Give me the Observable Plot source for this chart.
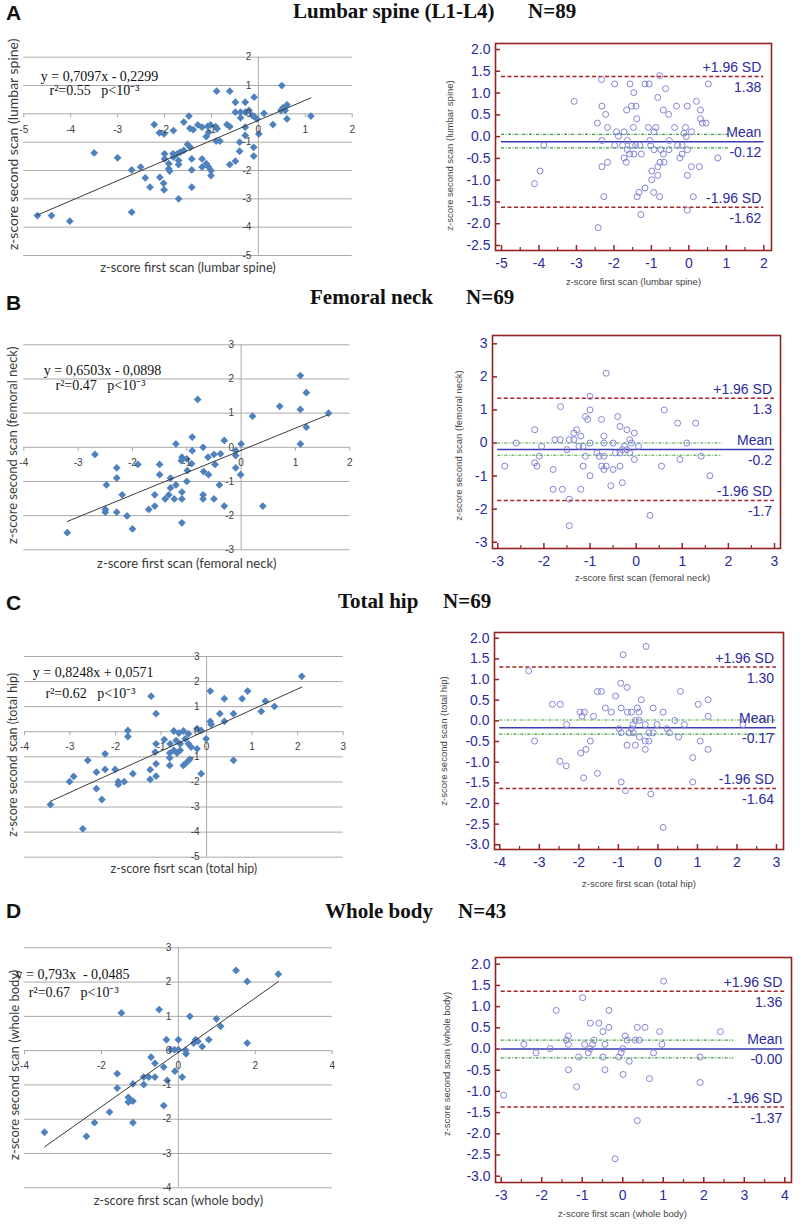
<!DOCTYPE html>
<html>
<head>
<meta charset="utf-8">
<script src="https://cdn.jsdelivr.net/npm/d3@7"></script>
<script src="https://cdn.jsdelivr.net/npm/@observablehq/plot@0.6"></script>
<style>
  body { margin: 0; background: #fff; }
  #root { position: relative; width: 800px; height: 1224px; overflow: hidden; background: #fff; }
  .letter { position: absolute; font-family: "Liberation Sans", Arial, sans-serif; font-weight: bold; font-size: 21px; line-height: 21px; color: #111; }
  .ttl { position: absolute; font-family: "Liberation Serif", "Times New Roman", serif; font-weight: bold; font-size: 21px; line-height: 21px; color: #111; white-space: pre; }
  svg text { white-space: pre; }
</style>
</head>
<body>
<div id="root"></div>
<script>
// ---------------- DATA ----------------
const panelLetters = ["A", "B", "C", "D"];
const siteTitles = ["Lumbar spine (L1-L4)", "Femoral neck", "Total hip", "Whole body"];
const sampleSizes = ["N=89", "N=69", "N=69", "N=43"];

const scatterXTitles = ["z-score first scan (lumbar spine)", "z-score first scan (femoral neck)", "z-score fisrt scan (total hip)", "z-score first scan (whole body)"];
const scatterYTitles = ["z-score second scan (lumbar spine)", "z-score second scan (femoral neck)", "z-score second scan (total hip)", "z-score second scan (whole body)"];
const baXTitles = ["z-score first scan (lumbar spine)", "z-score first scan (femoral neck)", "z-score first scan (total hip)", "z-score first scan (whole body)"];
const baYTitles = ["z-score second scan (lumbar spine)", "z-score second scan (femoral neck)", "z-score second scan (total hip)", "z-score second scan (whole body)"];

const equations = ["y = 0,7097x - 0,2299", "y = 0,6503x - 0,0898", "y = 0,8248x + 0,0571", "y = 0,793x  - 0,0485"];
const fitStats = ["r\u00b2=0.55   p<10\u207b\u00b3", "r\u00b2=0.47   p<10\u207b\u00b3", "r\u00b2=0.62   p<10\u207b\u00b3", "r\u00b2=0.67   p<10\u207b\u00b3"];
const fitSlopes = [0.7097, 0.6503, 0.8248, 0.793];
const fitIntercepts = [-0.2299, -0.0898, 0.0571, -0.0485];

const scatterXTicks = [[-5,-4,-3,-2,-1,0,1,2], [-4,-3,-2,-1,0,1,2], [-4,-3,-2,-1,0,1,2,3], [-4,-2,0,2,4]];
const scatterYTicks = [[-5,-4,-3,-2,-1,0,1,2], [-3,-2,-1,0,1,2,3], [-5,-4,-3,-2,-1,0,1,2,3], [-4,-3,-2,-1,0,1,2,3]];
const baXTicks = [[-5,-4,-3,-2,-1,0,1,2], [-3,-2,-1,0,1,2,3], [-4,-3,-2,-1,0,1,2,3], [-3,-2,-1,0,1,2,3,4]];
const baYTicks = [[-2.5,-2,-1.5,-1,-0.5,0,0.5,1,1.5,2], [-3,-2,-1,0,1,2,3], [-3,-2.5,-2,-1.5,-1,-0.5,0,0.5,1,1.5,2], [-3,-2.5,-2,-1.5,-1,-0.5,0,0.5,1,1.5,2]];
const baYDecimals = [1, 0, 1, 1];

const baUpper = [1.38, 1.35, 1.30, 1.36];
const baUpperLabels = ["1.38", "1.3", "1.30", "1.36"];
const baMean = [-0.12, -0.2, -0.17, 0.0];
const baMeanLabels = ["-0.12", "-0.2", "-0.17", "-0.00"];
const baLower = [-1.62, -1.74, -1.64, -1.37];
const baLowerLabels = ["-1.62", "-1.7", "-1.64", "-1.37"];
const baCIUpper = [0.05, 0.0, 0.02, 0.21];
const baCILower = [-0.26, -0.37, -0.32, -0.21];
const baCIEnd = [1.07, 1.87, 3.0, 2.74];

const lumbarScatter = [[0.50,1.00],[-0.89,0.80],[-0.61,0.80],[-0.09,0.59],[-0.49,0.41],[-0.28,0.41],[0.61,0.32],[0.52,0.21],[0.48,0.12],[0.57,0.12],[-0.49,0.06],[-0.38,0.06],[-0.20,0.12],[-0.13,-0.06],[0.12,0.02],[-0.28,0.06],[-0.38,-0.14],[-0.09,-0.09],[-0.03,-0.18],[1.12,-0.08],[0.61,-0.18],[0.31,-0.38],[0.01,-0.71],[-0.28,-0.47],[-0.28,-0.76],[-0.40,-1.00],[-0.40,-1.32],[-0.10,-1.18],[-0.10,-1.49],[-0.49,-1.67],[-0.61,-1.79],
[-1.48,-0.08],[-1.59,-0.29],[-1.46,-0.51],[-1.39,-0.56],[-2.22,-0.38],[-2.11,-0.67],[-2.01,-0.71],[-1.81,-0.59],[-1.29,-0.39],[-1.20,-0.47],[-1.08,-0.44],[-1.02,-0.39],[-0.91,-0.45],[-0.88,-0.53],[-1.11,-0.80],[-1.06,-0.65],[-0.90,-0.96],[-0.82,-0.96],[-0.67,-0.38],[-0.61,-0.45],[-1.51,-1.08],[-1.45,-1.18],[-1.59,-1.29],[-1.66,-1.35],[-1.73,-1.41],[-1.82,-1.41],[-2.00,-1.41],[-2.00,-1.59],[-1.81,-1.53],[-1.70,-1.65],[-1.70,-1.79],[-1.91,-1.76],[-1.91,-1.94],[-1.89,-2.02],[-1.42,-1.59],[-1.42,-1.98],[-1.20,-1.59],[-1.20,-1.88],[-1.11,-1.76],[-1.06,-1.88],[-1.01,-2.00],[-1.01,-2.18],[-2.02,-2.45],[-2.01,-2.68],[-2.10,-2.24],[-1.42,-2.59],[-1.70,-3.00],[-2.31,-2.59],[-2.41,-2.26],[-2.51,-1.88],[-2.70,-1.98],[-3.00,-1.55],[-3.50,-1.38],[-2.70,-3.47],[-4.71,-3.59],[-4.41,-3.59],[-4.02,-3.79]];

const femoralScatter = [[1.09,2.10],[1.20,1.60],[0.71,1.20],[1.09,1.11],[1.61,1.00],[0.21,0.91],[1.20,0.59],[1.09,0.10],[-0.80,1.40],[-0.90,0.30],[-1.20,0.10],[-0.70,0.00],[-0.31,0.20],[0.00,0.10],[-0.10,-0.10],[-0.10,-0.24],[-0.38,-0.19],[-0.50,-0.21],[-0.61,-0.29],[-0.90,-0.10],[-1.09,-0.29],[-1.10,-0.39],[-1.00,-0.34],[-0.91,-0.48],[-0.48,-0.50],[-0.10,-0.60],[-0.01,-0.80],[-0.99,-0.68],[-1.00,-1.00],[-0.69,-0.71],[-0.60,-0.80],[-0.40,-1.10],[-0.70,-1.39],[-0.70,-1.51],[-0.50,-1.51],[-0.31,-1.72],[0.40,-1.72],[-1.20,-1.10],[-1.30,-0.90],[-1.30,-1.19],[-1.09,-1.31],[-1.09,-1.51],[-1.23,-1.51],[-1.33,-1.39],[-1.40,-1.51],[-1.50,-0.50],[-1.50,-0.80],[-1.59,-1.39],[-1.59,-1.72],[-1.70,-1.82],[-1.09,-2.21],[-1.90,-0.50],[-2.00,-2.39],[-2.10,-2.01],[-2.19,-1.39],[-2.29,-0.60],[-2.29,-0.90],[-2.29,-1.90],[-2.48,-1.10],[-2.50,-1.82],[-2.50,-1.90],[-2.69,-0.21],[-3.20,-2.50]];

const hipScatter = [[2.09,2.21],[0.08,1.62],[0.90,1.62],[0.39,1.32],[0.78,1.32],[1.29,1.22],[1.49,1.01],[-1.22,1.42],[-1.11,0.72],[0.29,0.72],[0.59,0.72],[1.20,0.81],[0.39,0.41],[0.08,0.41],[0.10,0.29],[-1.73,0.05],[-1.73,-0.19],[-0.72,0.03],[-0.61,-0.05],[-0.51,0.03],[-0.40,-0.08],[-0.21,0.12],[-0.12,0.05],[-0.01,-0.28],[-0.93,-0.31],[-0.80,-0.48],[-0.67,-0.35],[-0.58,-0.48],[-0.47,-0.28],[-0.40,-0.48],[-0.34,-0.61],[-0.21,-0.68],[-1.11,-0.48],[-1.13,-0.81],[-1.11,-1.28],[-0.81,-0.85],[-0.72,-0.74],[-0.65,-0.85],[-0.58,-0.74],[-0.81,-1.04],[-0.81,-1.34],[-0.51,-1.34],[-0.43,-1.21],[-0.37,-1.10],[-1.24,-1.51],[-1.24,-1.90],[-1.11,-1.77],[-0.12,-1.67],[0.59,-1.14],[-2.23,-0.88],[-2.61,-1.14],[-2.01,-1.50],[-2.23,-1.50],[-2.42,-1.61],[-1.62,-1.67],[-2.92,-1.78],[-3.01,-1.99],[-1.94,-1.99],[-1.94,-2.10],[-1.81,-1.99],[-2.42,-2.27],[-2.30,-2.70],[-3.43,-2.90],[-2.72,-3.87]];

const bodyScatter = [[1.50,2.34],[1.79,2.02],[2.60,2.23],[-1.48,1.10],[-0.50,1.20],[0.30,1.00],[0.99,0.93],[1.10,0.71],[-0.31,0.32],[0.00,0.32],[0.45,0.32],[0.51,0.27],[0.79,0.32],[0.40,0.22],[0.62,0.12],[1.79,0.22],[-0.20,0.03],[-0.10,0.03],[0.00,0.03],[0.19,0.01],[0.20,-0.09],[-0.71,-0.19],[-0.61,-0.37],[-0.38,-0.48],[-0.09,-0.60],[0.10,-0.77],[-0.29,-0.87],[-1.59,-0.67],[-0.90,-0.77],[-0.77,-0.77],[-0.61,-0.77],[-0.90,-0.99],[-1.18,-0.97],[-1.59,-1.09],[-1.30,-1.36],[-1.24,-1.45],[-1.30,-1.50],[-1.18,-1.47],[-0.38,-1.60],[-1.79,-1.79],[-1.18,-2.10],[-2.18,-2.10],[-2.39,-2.50],[-3.48,-2.38]];

const lumbarBA = [[-2.33,1.31],[-1.98,1.21],[-1.57,1.21],[-1.17,1.21],[-1.06,1.21],[-0.78,1.40],[0.52,1.21],[-3.06,0.81],[-1.47,1.01],[-0.62,1.10],[-0.83,0.90],[-2.32,0.70],[-1.66,0.61],[-1.53,0.70],[-1.41,0.70],[-0.68,0.61],[-0.33,0.70],[-0.04,0.70],[0.20,0.81],[0.31,0.61],[-2.22,0.51],[-1.39,0.41],[-0.54,0.51],[0.31,0.41],[0.36,0.31],[0.46,0.31],[-2.44,0.31],[-2.17,0.21],[-1.48,0.21],[-1.08,0.21],[-0.88,0.21],[-0.38,0.21],[-0.09,0.21],[-1.93,0.11],[-1.73,0.11],[-0.93,0.11],[-0.13,0.08],[0.07,0.11],[-1.88,0.01],[-0.07,0.00],[-2.32,-0.09],[-1.64,-0.09],[-1.04,-0.09],[-0.52,-0.09],[-3.87,-0.20],[-1.98,-0.20],[-1.77,-0.20],[-1.51,-0.20],[-1.42,-0.20],[-1.31,-0.20],[-1.02,-0.20],[-0.30,-0.20],[-0.18,-0.20],[-1.64,-0.30],[-0.93,-0.30],[-0.75,-0.30],[-0.53,-0.30],[-0.04,-0.30],[-1.58,-0.40],[-1.47,-0.40],[-1.27,-0.40],[-0.68,-0.40],[-0.18,-0.40],[-1.73,-0.49],[-0.24,-0.49],[0.77,-0.49],[-1.67,-0.59],[-2.17,-0.59],[-0.77,-0.59],[-0.66,-0.59],[-2.32,-0.69],[-0.83,-0.69],[0.07,-0.69],[0.28,-0.69],[-3.97,-0.79],[-0.99,-0.79],[-0.83,-0.89],[-0.04,-0.89],[-0.99,-0.99],[-4.12,-1.08],[-1.17,-1.18],[-1.33,-1.28],[-0.94,-1.28],[-2.27,-1.38],[-1.38,-1.38],[-0.78,-1.38],[0.12,-1.38],[-1.28,-1.79],[-0.04,-1.69],[-2.42,-2.09]];

const femoralBA = [[-0.65,2.11],[-1.00,1.41],[-1.64,1.10],[-1.00,1.00],[0.61,1.00],[-1.10,0.80],[-1.05,0.71],[-0.75,0.71],[-0.40,0.80],[-0.35,0.50],[-2.20,0.40],[-1.29,0.40],[-1.35,0.30],[-0.20,0.40],[-0.04,0.30],[0.90,0.60],[1.29,0.60],[-0.70,0.21],[-1.20,0.21],[-1.76,0.10],[-1.65,0.10],[-1.45,0.10],[-1.35,0.10],[-0.14,0.10],[-2.60,0.00],[-1.00,0.00],[-0.70,0.00],[-0.50,0.00],[-0.10,0.00],[1.10,0.00],[-2.05,-0.10],[-1.24,-0.10],[-1.15,-0.10],[-0.25,-0.10],[0.05,-0.10],[-1.50,-0.20],[-0.30,-0.20],[-0.20,-0.20],[-0.85,-0.30],[-0.45,-0.30],[-0.35,-0.30],[-0.14,-0.30],[-2.10,-0.40],[-1.10,-0.40],[-0.80,-0.40],[-0.70,-0.40],[1.41,-0.40],[-0.04,-0.50],[0.95,-0.50],[-2.20,-0.60],[-2.85,-0.70],[-2.15,-0.70],[-1.15,-0.70],[-0.75,-0.70],[-0.65,-0.70],[-0.35,-0.70],[0.55,-0.70],[-1.80,-0.80],[-0.70,-0.80],[-0.50,-0.80],[-1.00,-0.99],[1.60,-0.99],[-0.55,-1.29],[-0.30,-1.20],[-1.80,-1.40],[-1.60,-1.40],[-1.20,-1.40],[-1.45,-1.70],[0.30,-2.19],[-1.45,-2.50]];

const hipBA = [[-0.30,1.80],[-0.88,1.60],[-3.27,1.21],[-0.94,0.91],[-0.78,0.81],[-1.53,0.71],[-1.43,0.71],[-1.07,0.60],[0.57,0.71],[-0.42,0.51],[1.27,0.51],[-2.67,0.40],[-2.47,0.40],[1.02,0.40],[-1.33,0.31],[-0.93,0.31],[-0.52,0.31],[-0.12,0.31],[-1.97,0.21],[-1.86,0.21],[-1.18,0.21],[-0.77,0.21],[-0.67,0.21],[-0.48,0.21],[0.13,0.21],[-1.92,0.11],[-1.63,0.11],[1.27,0.11],[-0.57,0.01],[-0.47,0.01],[0.43,0.01],[-2.31,-0.09],[-0.63,-0.09],[-0.32,-0.09],[-0.02,-0.09],[0.67,-0.09],[2.15,-0.09],[-0.98,-0.19],[-0.67,-0.19],[0.23,-0.19],[-0.93,-0.29],[-0.73,-0.29],[-0.62,-0.29],[-0.23,-0.29],[-0.12,-0.29],[0.29,-0.29],[-0.47,-0.39],[0.52,-0.39],[-3.12,-0.49],[-1.71,-0.49],[-0.32,-0.49],[-0.23,-0.49],[1.07,-0.49],[-0.78,-0.59],[-0.57,-0.59],[-1.82,-0.69],[-0.32,-0.69],[1.27,-0.69],[-1.95,-0.78],[0.88,-0.89],[-2.48,-0.98],[-2.32,-1.09],[-1.53,-1.27],[-1.88,-1.38],[-0.93,-1.48],[0.88,-1.48],[-0.82,-1.69],[-0.18,-1.77],[0.13,-2.58]];

const bodyBA = [[1.01,1.60],[-0.99,1.21],[-1.64,0.91],[-0.34,0.91],[-0.80,0.61],[-0.59,0.61],[-0.34,0.51],[0.36,0.51],[0.55,0.51],[-0.49,0.41],[0.91,0.41],[2.41,0.41],[-1.34,0.31],[-1.39,0.21],[-0.71,0.21],[0.06,0.31],[0.11,0.21],[0.31,0.21],[0.41,0.21],[-2.44,0.11],[-1.34,0.11],[-0.94,0.11],[-0.75,0.11],[-0.44,0.11],[0.97,0.11],[-1.79,0.01],[-0.80,0.01],[0.00,0.01],[-2.14,-0.09],[-0.85,-0.09],[-0.04,-0.09],[0.76,-0.09],[-1.09,-0.19],[-0.49,-0.19],[-0.10,-0.19],[1.91,-0.19],[0.16,-0.29],[-1.34,-0.49],[-0.44,-0.49],[0.01,-0.60],[0.66,-0.70],[1.91,-0.79],[-1.14,-0.89],[-2.94,-1.09],[0.36,-1.69],[-0.19,-2.59]];

const scatterData = [lumbarScatter, femoralScatter, hipScatter, bodyScatter];
const baData = [lumbarBA, femoralBA, hipBA, bodyBA];

// ---------------- LAYOUT (page pixels) ----------------
const rowBoxes = [[22, 268], [312, 275], [612, 288], [922, 302]];           // top, height
const scatterFrames = [[23.3, 351.7, 56.7, 255], [23.3, 349.3, 344.3, 549.3], [24, 342.7, 656, 856.7], [24, 331.7, 947.3, 1187.3]];
const eqPos = [[17, 19, 25.7, 33.3], [20, 25.7, 31.7, 40.7], [8.3, 15.7, 21, 36.7], [-9, 26.7, 4.3, 44.4]];
const scXTitlePos = [[0, 12.5, 12.8], [0, 14, 13], [0, 11.5, 12.5], [0, 13, 12.8]];   // dx, dy, size
const scYTitlePos = [[-10.3, -12, 14], [-11.3, -2, 13], [-12, -2, 12.5], [-10, -3, 13]];
const baFrames = [[495, 771, 43, 250], [492, 780, 335, 548], [494, 783, 632, 849], [495, 791, 957, 1182]];
const baTickPx = [[501, 763.3, 245, 49], [497.3, 774, 541.7, 343.3], [499.3, 776, 844.3, 637.7], [500.7, 784.3, 1175.7, 963.7]];
const baXTitlePos = [[0, 31.7], [6, 29], [0, 34], [-21, 31]];
const baYTitlePos = [[-45.7, 8.5], [-33.7, 3.5], [-50.7, 0], [-48.3, -6]];

const root = document.getElementById("root");
function place(node, left, top) {
  node.style.position = "absolute";
  node.style.left = left + "px";
  node.style.top = top + "px";
  root.appendChild(node);
}

const grid = "#a9a9a9";
const axisText = "#404040";
const blue = "#2b2b9e";
const maroon = "#962222";
const mid = {lineAnchor: "middle"};

for (let i = 0; i < 4; i++) {
  const [rowTop, rowH] = rowBoxes[i];

  // ---------- Scatter (Excel style) ----------
  {
    const [fx0, fx1, fy0, fy1] = scatterFrames[i];
    const pl = 0, pw = 400;
    const xt = scatterXTicks[i], yt = scatterYTicks[i];
    const pts = scatterData[i];
    const xExt = d3.extent(pts, d => d[0]);
    const fit = xExt.map(x => ({x, y: fitSlopes[i] * x + fitIntercepts[i]}));
    const [eqdx, eqdy, rdx, rdy] = eqPos[i];
    const chart = Plot.plot({
      width: pw, height: rowH,
      marginLeft: fx0 - pl, marginRight: pl + pw - fx1,
      marginTop: fy0 - rowTop, marginBottom: rowTop + rowH - fy1,
      x: {domain: [xt[0], xt[xt.length - 1]], axis: null},
      y: {domain: [yt[0], yt[yt.length - 1]], axis: null},
      style: {background: "transparent", overflow: "visible", fontFamily: "'Liberation Sans', Arial, sans-serif", whiteSpace: "pre"},
      marks: [
        Plot.ruleY(yt, {y: d => d, stroke: grid, strokeWidth: 1}),
        Plot.ruleX([0], {x: d => d, stroke: grid, strokeWidth: 1}),
        Plot.ruleX(xt, {x: d => d, y1: 0, y2: 0, insetBottom: -4, stroke: grid, strokeWidth: 1}),
        Plot.dot(pts, {x: d => d[0], y: d => d[1], symbol: "diamond2", r: 3.5, fill: "#4f81bd", stroke: "none"}),
        Plot.line(fit, {x: "x", y: "y", stroke: "#3a3a3a", strokeWidth: 1}),
        Plot.text(xt, {...mid, x: d => d, y: 0, dy: 15.5, text: d => String(d), fill: axisText, fontSize: 10}),
        Plot.text(yt, {...mid, x: 0, y: d => d, dx: -7, textAnchor: "end", text: d => String(d), fill: axisText, fontSize: 10}),
        Plot.text([equations[i]], {...mid, text: d => d, frameAnchor: "top-left", dx: eqdx, dy: eqdy, textAnchor: "start",
          fontFamily: "'Liberation Serif', 'Times New Roman', serif", fontSize: 14, fill: "#111"}),
        Plot.text([fitStats[i]], {...mid, text: d => d, frameAnchor: "top-left", dx: rdx, dy: rdy, textAnchor: "start",
          fontFamily: "'Liberation Serif', 'Times New Roman', serif", fontSize: 14, fill: "#111"}),
        Plot.text([scatterXTitles[i]], {...mid, text: d => d, frameAnchor: "bottom", textAnchor: "middle", dx: scXTitlePos[i][0], dy: scXTitlePos[i][1],
          fontFamily: "Lato, 'Open Sans', sans-serif", fontSize: scXTitlePos[i][2], fill: "#3a3a3a"}),
        Plot.text([scatterYTitles[i]], {...mid, text: d => d, frameAnchor: "left", textAnchor: "middle", rotate: -90, dx: scYTitlePos[i][0], dy: scYTitlePos[i][1],
          fontFamily: "Lato, 'Open Sans', sans-serif", fontSize: scYTitlePos[i][2], fill: "#3a3a3a"})
      ]
    });
    place(chart, pl, rowTop);
  }

  // ---------- Bland-Altman ----------
  {
    const [fx0, fx1, fy0, fy1] = baFrames[i];
    const [tx0, tx1, ty0, ty1] = baTickPx[i];
    const pl = 400, pw = 400;
    const xt = baXTicks[i], yt = baYTicks[i];
    const fw = fx1 - fx0, fh = fy1 - fy0;
    const xFirst = xt[0], xLast = xt[xt.length - 1];
    const minor = d3.pairs(xt).map(([a, b]) => (a + b) / 2);
    const lab = {fill: blue, fontSize: 14, textAnchor: "end", lineAnchor: "middle", x: xLast, dx: -2.5};
    const chart = Plot.plot({
      width: pw, height: rowH,
      marginLeft: fx0 - pl, marginRight: pl + pw - fx1,
      marginTop: fy0 - rowTop, marginBottom: rowTop + rowH - fy1,
      x: {domain: [xFirst, xLast], range: [tx0 - pl, tx1 - pl], axis: null},
      y: {domain: [yt[0], yt[yt.length - 1]], range: [ty0 - rowTop, ty1 - rowTop], axis: null},
      style: {background: "transparent", overflow: "visible", fontFamily: "'Liberation Sans', Arial, sans-serif", whiteSpace: "pre"},
      marks: [
        Plot.ruleY([baCIUpper[i], baCILower[i]], {y: d => d, x1: xFirst, x2: baCIEnd[i], stroke: "#3c9c3c", strokeWidth: 1.2, strokeDasharray: "3,1.5,1,1.5"}),
        Plot.ruleY([baUpper[i], baLower[i]], {y: d => d, x1: xFirst, x2: xLast, stroke: "#aa2222", strokeWidth: 1.5, strokeDasharray: "4,2.5"}),
        Plot.ruleY([baMean[i]], {y: d => d, x1: xFirst, x2: xLast, stroke: "#3b3bb8", strokeWidth: 1.5}),
        Plot.dot(baData[i], {x: d => d[0], y: d => d[1], r: 3, stroke: "#8585d6", strokeWidth: 1, fill: "none"}),
        Plot.frame({stroke: maroon, strokeWidth: 1.6}),
        Plot.ruleX(xt, {x: d => d, insetTop: fh - 5, stroke: maroon, strokeWidth: 1.5}),
        Plot.ruleX(minor, {x: d => d, insetTop: fh - 3, stroke: maroon, strokeWidth: 1.2}),
        Plot.ruleY(yt, {y: d => d, insetRight: fw - 5, stroke: maroon, strokeWidth: 1.5}),
        Plot.text(xt, {...mid, x: d => d, frameAnchor: "bottom", dy: 13, text: d => String(d), fill: blue, fontSize: 14}),
        Plot.text(yt, {...mid, y: d => d, frameAnchor: "left", dx: -5, textAnchor: "end", text: d => d.toFixed(baYDecimals[i]), fill: blue, fontSize: 14}),
        Plot.text(["+1.96 SD"], {...lab, text: d => d, y: baUpper[i], dy: -9}),
        Plot.text([baUpperLabels[i]], {...lab, text: d => d, y: baUpper[i], dy: 11}),
        Plot.text(["Mean"], {...lab, text: d => d, y: baMean[i], dy: -9}),
        Plot.text([baMeanLabels[i]], {...lab, text: d => d, y: baMean[i], dy: 11}),
        Plot.text(["-1.96 SD"], {...lab, text: d => d, y: baLower[i], dy: -9}),
        Plot.text([baLowerLabels[i]], {...lab, text: d => d, y: baLower[i], dy: 11}),
        Plot.text([baXTitles[i]], {...mid, text: d => d, frameAnchor: "bottom", textAnchor: "middle", dx: baXTitlePos[i][0], dy: baXTitlePos[i][1], fontSize: 9.5, fill: "#444"}),
        Plot.text([baYTitles[i]], {...mid, text: d => d, frameAnchor: "left", textAnchor: "middle", rotate: -90, dx: baYTitlePos[i][0], dy: baYTitlePos[i][1], fontSize: 9.5, fill: "#444"})
      ]
    });
    place(chart, pl, rowTop);
  }
}

// ---------- Row titles ----------
const letterTops = [2.2, 292, 592, 900];
const titleTops = [0.5, 287.4, 590.7, 900.7];
const titleLefts = [293, 310, 338, 325];
const nLefts = [528, 466, 443, 458];
for (let i = 0; i < 4; i++) {
  const L = document.createElement("div");
  L.className = "letter"; L.textContent = panelLetters[i];
  place(L, 6, letterTops[i]);
  const T = document.createElement("div");
  T.className = "ttl"; T.textContent = siteTitles[i];
  place(T, titleLefts[i], titleTops[i]);
  const N = document.createElement("div");
  N.className = "ttl"; N.textContent = sampleSizes[i];
  place(N, nLefts[i], titleTops[i]);
}
</script>
</body>
</html>
